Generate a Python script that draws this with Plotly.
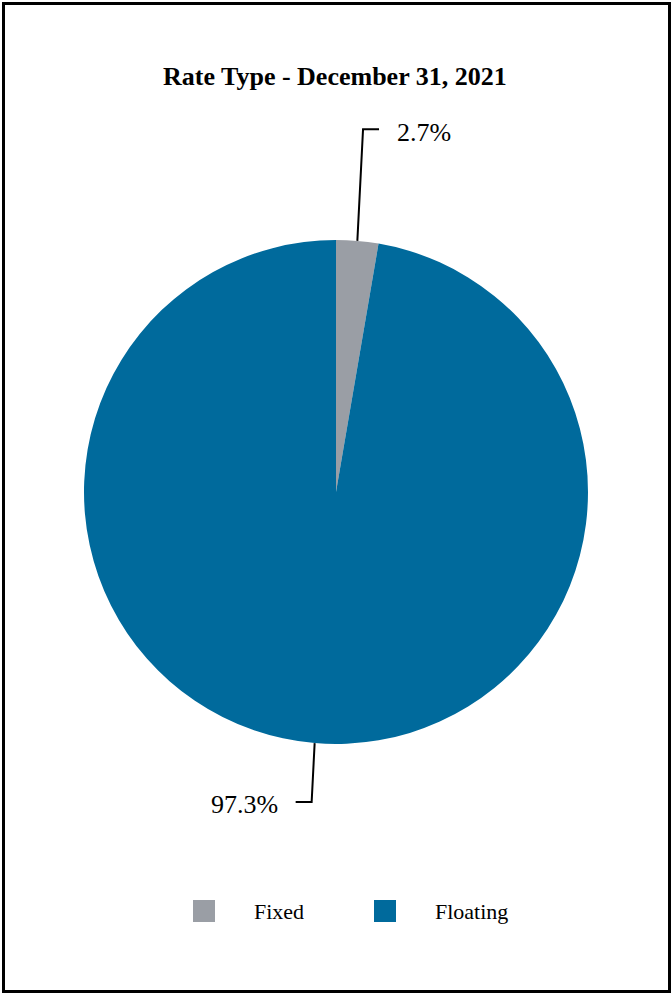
import math
import plotly.graph_objects as go

# data
labels = ["Fixed", "Floating"]
values = [2.7, 97.3]
text_labels = ["2.7%", "97.3%"]
colors = ["#9a9ea5", "#006a9c"]
title_text = "Rate Type - December 31, 2021"

# layout (pixels)
W, H = 672, 994
cx, cy, r = 336, 492, 252
leader_len = [112, 59]
arm_len = 16
label_gap = 16
font_family = "Liberation Serif"


def px(x):
    return x / W


def py(y):
    return 1 - y / H


fig = go.Figure()

fig.add_trace(
    go.Pie(
        labels=labels,
        values=values,
        marker=dict(colors=colors, line=dict(width=0)),
        sort=False,
        direction="clockwise",
        rotation=0,
        textinfo="none",
        hoverinfo="label+percent",
        showlegend=False,
        domain=dict(x=[px(cx - r), px(cx + r)], y=[py(cy + r), py(cy - r)]),
    )
)

shapes = []
annotations = []

# leader lines and outside labels
total = sum(values)
start = 0.0
for i, v in enumerate(values):
    mid = (start + v / 2) / total * 2 * math.pi
    start += v
    sx, sy = math.sin(mid), -math.cos(mid)
    ex, ey = cx + r * sx, cy + r * sy
    # leader bends slightly less than radial
    kx, ky = ex + 0.6 * leader_len[i] * sx, ey + leader_len[i] * sy
    side = 1 if sx >= 0 else -1
    hx = kx + side * arm_len
    path = "M {} {} L {} {} L {} {}".format(
        px(ex), py(ey), px(kx), py(ky), px(hx), py(ky)
    )
    shapes.append(
        dict(type="path", xref="paper", yref="paper", path=path,
             line=dict(color="black", width=2))
    )
    annotations.append(
        dict(
            x=px(hx + side * label_gap), y=py(ky + 3), xref="paper", yref="paper",
            text=text_labels[i], showarrow=False,
            xanchor="left" if side > 0 else "right", yanchor="middle",
            font=dict(family=font_family, size=26, color="black"),
        )
    )

# custom legend
legend_y = 911
legend_x = [193, 374]
box = 22
for i, name in enumerate(labels):
    x0 = legend_x[i]
    shapes.append(
        dict(type="rect", xref="paper", yref="paper",
             x0=px(x0), x1=px(x0 + box),
             y0=py(legend_y - box / 2), y1=py(legend_y + box / 2),
             fillcolor=colors[i], line=dict(width=0))
    )
    annotations.append(
        dict(
            x=px(x0 + box + 37), y=py(legend_y), xref="paper", yref="paper",
            text=name, showarrow=False, xanchor="left", yanchor="middle",
            font=dict(family=font_family, size=22, color="black"),
        )
    )

# title
annotations.append(
    dict(
        x=px(335), y=py(76), xref="paper", yref="paper",
        text="<b>" + title_text + "</b>", showarrow=False,
        xanchor="center", yanchor="middle",
        font=dict(family=font_family, size=26, color="black"),
    )
)

# frame
shapes.append(
    dict(type="rect", xref="paper", yref="paper",
         x0=px(3.5), x1=px(669.5), y0=py(991.5), y1=py(3.5),
         line=dict(color="black", width=3))
)

fig.update_layout(
    width=W,
    height=H,
    margin=dict(l=0, r=0, t=0, b=0),
    paper_bgcolor="white",
    plot_bgcolor="white",
    shapes=shapes,
    annotations=annotations,
)

fig.write_html(
    "out.html",
    config={"displayModeBar": False},
    post_script="document.body.style.margin='0';document.body.style.overflow='hidden';",
)
